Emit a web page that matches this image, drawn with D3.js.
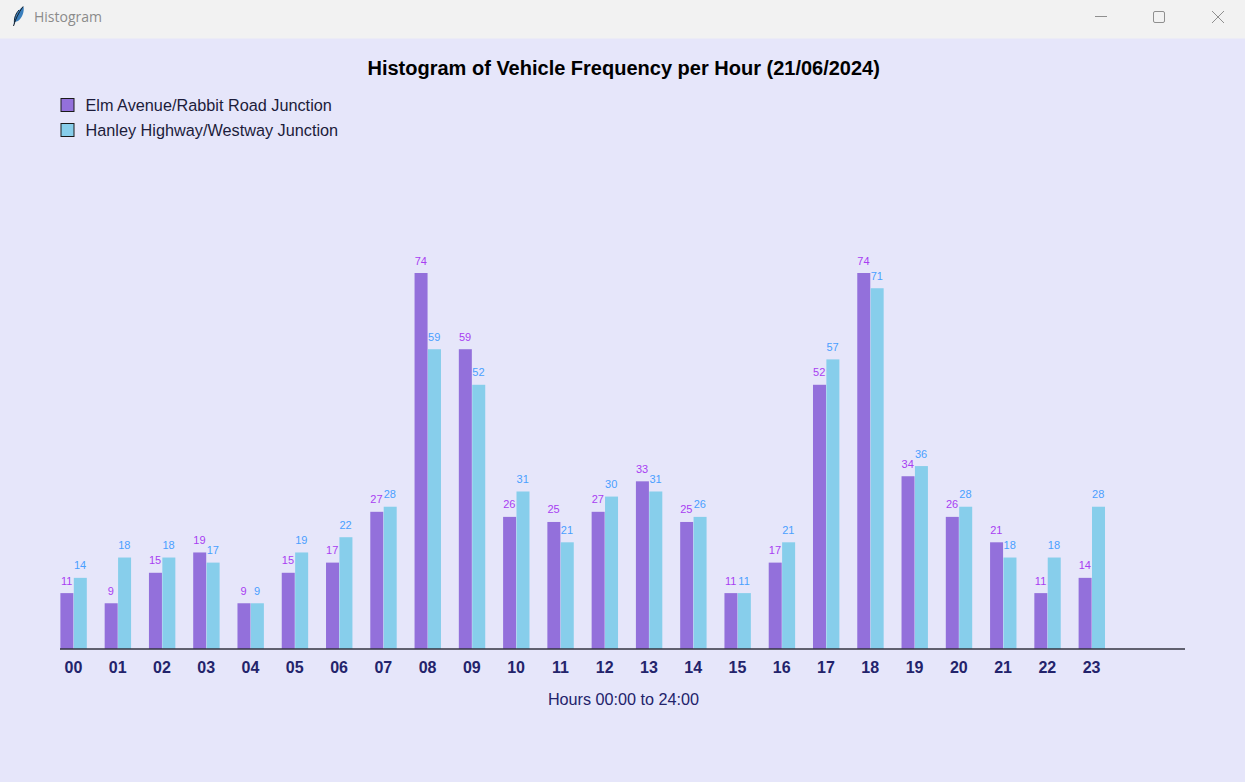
<!DOCTYPE html>
<html>
<head>
<meta charset="utf-8">
<title>Histogram</title>
<script src="https://cdn.jsdelivr.net/npm/d3@7/dist/d3.min.js"></script>
<style>
  html, body { margin: 0; padding: 0; background: #e6e6fa; overflow: hidden; }
  svg { display: block; font-family: "Liberation Sans", Arial, sans-serif; }
</style>
</head>
<body>
<svg id="chart" width="1245" height="782"></svg>
<script>
const hours = ["00","01","02","03","04","05","06","07","08","09","10","11",
               "12","13","14","15","16","17","18","19","20","21","22","23"];
const elmAvenue = [11,9,15,19,9,15,17,27,74,59,26,25,27,33,25,11,17,52,74,34,26,21,11,14];
const hanleyHighway = [14,18,18,17,9,19,22,28,59,52,31,21,30,31,26,11,21,57,71,36,28,18,18,28];
const seriesNames = ["Elm Avenue/Rabbit Road Junction", "Hanley Highway/Westway Junction"];
const seriesColors = ["#9370db", "#87ceeb"];
const labelColors = ["#a83ef2", "#4a9fff"];
const chartTitle = "Histogram of Vehicle Frequency per Hour (21/06/2024)";
const axisTitle = "Hours 00:00 to 24:00";
const windowTitle = "Histogram";

const svg = d3.select("#chart");
const W = 1245, H = 782, barW = 13;

// Window frame
svg.append("rect").attr("width", W).attr("height", H).attr("fill", "#e6e6fa");
svg.append("rect").attr("width", W).attr("height", 38.5).attr("fill", "#f2f2f2");
svg.append("text").attr("x", 34).attr("y", 22).attr("font-size", 14)
   .attr("font-family", "'Open Sans', 'Noto Sans', sans-serif").attr("fill", "#8b8b8b").text(windowTitle);

const icon = svg.append("g");
icon.append("path").attr("d", "M14 25 C13 19 16 11 23.5 6.5 C24.5 11 22.5 18 18 21 L15 22 Z").attr("fill", "#3a7fbd");
icon.append("path").attr("d", "M13.5 26 C15.5 19 18.5 13 23 6.5").attr("fill", "none").attr("stroke", "#14202c").attr("stroke-width", 1);
icon.append("path").attr("d", "M14.5 22 C14 18 16 13 19 10").attr("fill", "none").attr("stroke", "#1b2733").attr("stroke-width", 1);

const ctrl = svg.append("g").attr("fill", "none").attr("stroke", "#8f8f8f").attr("stroke-width", 1);
ctrl.append("line").attr("x1", 1095).attr("x2", 1107).attr("y1", 16.5).attr("y2", 16.5);
ctrl.append("rect").attr("x", 1153.5).attr("y", 11.5).attr("width", 11).attr("height", 11).attr("rx", 1.5);
ctrl.append("line").attr("x1", 1212).attr("x2", 1224).attr("y1", 11).attr("y2", 23);
ctrl.append("line").attr("x1", 1224).attr("x2", 1212).attr("y1", 11).attr("y2", 23);

// Scales
const x = d3.scaleBand().domain(hours).range([60.4, 60.4 + 44.27 * 24]).paddingInner(0);
const y = d3.scaleLinear().domain([0, 74]).range([649, 273]);

// Title
svg.append("text").attr("x", 623.7).attr("y", 75).attr("text-anchor", "middle")
   .attr("font-size", 20).attr("font-weight", "bold").attr("fill", "#000").text(chartTitle);

// Legend
const legend = svg.selectAll("g.legend").data(seriesNames).join("g").attr("class", "legend")
   .attr("transform", (d, i) => `translate(0,${105 + i * 25})`);
legend.append("rect").attr("x", 61).attr("y", -6.5).attr("width", 13).attr("height", 13)
   .attr("fill", (d, i) => seriesColors[i]).attr("stroke", "#1a1a1a").attr("stroke-width", 1);
legend.append("text").attr("x", 85.5).attr("y", 5.5).attr("font-size", 16.25).attr("fill", "#1c1c3a").text(d => d);

// Bars and value labels
[elmAvenue, hanleyHighway].forEach((vals, s) => {
  const g = svg.append("g");
  g.selectAll("rect").data(vals).join("rect")
    .attr("x", (d, i) => x(hours[i]) + s * (barW + 0.4))
    .attr("y", d => y(d))
    .attr("width", barW)
    .attr("height", d => y(0) - y(d))
    .attr("fill", seriesColors[s]);
  g.selectAll("text").data(vals).join("text")
    .attr("x", (d, i) => x(hours[i]) + s * (barW + 0.4) + barW / 2 - 0.3)
    .attr("y", d => y(d) - 8.5)
    .attr("text-anchor", "middle")
    .attr("font-size", 11)
    .attr("fill", labelColors[s])
    .text(d => d);
});

// Hour axis
const axis = d3.axisBottom(x).tickSize(0).tickPadding(0);
const axisG = svg.append("g").attr("transform", "translate(0,649)").call(axis);
axisG.select(".domain").remove();
axisG.selectAll(".tick").attr("transform", d => `translate(${x(d) + 13},0)`);
axisG.selectAll(".tick text").attr("y", 24).attr("dy", 0)
   .attr("font-family", "'Liberation Sans', Arial, sans-serif")
   .attr("font-size", 16).attr("font-weight", "bold").attr("fill", "#23236b");
svg.append("line").attr("x1", 60).attr("x2", 1185).attr("y1", 649).attr("y2", 649)
   .attr("stroke", "#333340").attr("stroke-width", 1.4);

svg.append("text").attr("x", 623.5).attr("y", 705).attr("text-anchor", "middle")
   .attr("font-size", 16.2).attr("fill", "#23236b").text(axisTitle);
</script>
</body>
</html>
